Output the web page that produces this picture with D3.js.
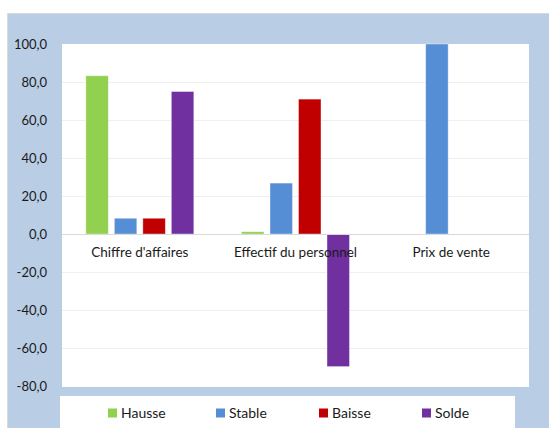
<!DOCTYPE html>
<html><head><meta charset="utf-8">
<script src="https://cdn.jsdelivr.net/npm/d3@7"></script>
<style>body{margin:0;background:#fff}svg{display:block}</style>
</head><body><svg id="c" width="549" height="428"></svg>
<script>
const categories = ["Chiffre d'affaires", "Effectif du personnel", "Prix de vente"];
const seriesNames = ["Hausse", "Stable", "Baisse", "Solde"];
const hausse = [83.3, 1.2, 0];
const stable = [8.3, 26.8, 100];
const baisse = [8.3, 71.0, 0];
const solde = [75.0, -69.8, 0];
const yTicks = [-80, -60, -40, -20, 0, 20, 40, 60, 80, 100];
const colors = ["#92d050", "#558ed5", "#c00000", "#7030a0"];
const values = [hausse, stable, baisse, solde];

const svg = d3.select("#c");
const font = "Lato, 'Open Sans', sans-serif";
// panel
svg.append("rect").attr("x", 7.5).attr("y", 13.5).attr("width", 545).attr("height", 420)
  .attr("fill", "#b9cde5").attr("stroke", "#d9d9d9");
const plot = {l: 62, r: 529, t: 44, b: 387};
svg.append("rect").attr("x", plot.l).attr("y", plot.t).attr("width", plot.r - plot.l).attr("height", plot.b - plot.t)
  .attr("fill", "#fff");

const y = d3.scaleLinear().domain([-80, 100]).range([386, 44]);
const x0 = d3.scaleBand().domain(categories).range([plot.l, plot.r]).paddingInner(0).paddingOuter(0);
const step = 28.5, bw = 22.5;

// gridlines
svg.append("g").selectAll("line").data(yTicks.filter(d => d !== 0 && d !== -80 && d !== 100)).join("line")
  .attr("x1", plot.l).attr("x2", plot.r).attr("y1", d => Math.round(y(d)) + 0.5).attr("y2", d => Math.round(y(d)) + 0.5)
  .attr("stroke", "#efefef");

// y axis labels
const ya = svg.append("g").attr("transform", `translate(47,0)`)
  .call(d3.axisLeft(y).tickValues(yTicks).tickSize(0).tickFormat(d => d3.format(".1f")(d).replace(".", ",").replace("−", "-")));
ya.select(".domain").remove();
ya.selectAll("text").attr("font-family", font).attr("font-size", 13).attr("fill", "#1a1a1a").attr("x", 0);

// bars
const g = svg.append("g");
categories.forEach((c, ci) => {
  const cx = x0(c) + x0.bandwidth() / 2;
  seriesNames.forEach((s, si) => {
    const v = values[si][ci];
    if (v === 0) return;
    const bx = cx + (si - 1.5) * step - bw / 2;
    g.append("rect").attr("x", bx).attr("width", bw)
      .attr("y", y(Math.max(0, v))).attr("height", Math.abs(y(v) - y(0)))
      .attr("fill", colors[si]).attr("stroke", "#fff").attr("stroke-opacity", 0.5).attr("stroke-width", 0.8);
  });
});

// zero line
svg.append("line").attr("x1", plot.l).attr("x2", plot.r).attr("y1", Math.round(y(0)) + 0.5).attr("y2", Math.round(y(0)) + 0.5)
  .attr("stroke", "#d9d9d9");

// category labels
const xa = svg.append("g").attr("transform", `translate(0,${y(0)})`)
  .call(d3.axisBottom(x0).tickSize(0).tickPadding(13));
xa.select(".domain").remove();
xa.selectAll("text").attr("font-family", font).attr("font-size", 13.5).attr("fill", "#1a1a1a");

// legend
svg.append("rect").attr("x", 60).attr("y", 396).attr("width", 455).attr("height", 40).attr("fill", "#fff");
const lx = [108, 216, 319, 422];
const lg = svg.append("g").selectAll("g").data(seriesNames).join("g")
  .attr("transform", (d, i) => `translate(${lx[i]},413)`);
lg.append("rect").attr("x", 0).attr("y", -4.5).attr("width", 9).attr("height", 9).attr("fill", (d, i) => colors[i]);
lg.append("text").attr("x", 13).attr("y", 0).attr("dy", "0.35em").text(d => d)
  .attr("font-family", font).attr("font-size", 14).attr("fill", "#1a1a1a");
</script></body></html>
